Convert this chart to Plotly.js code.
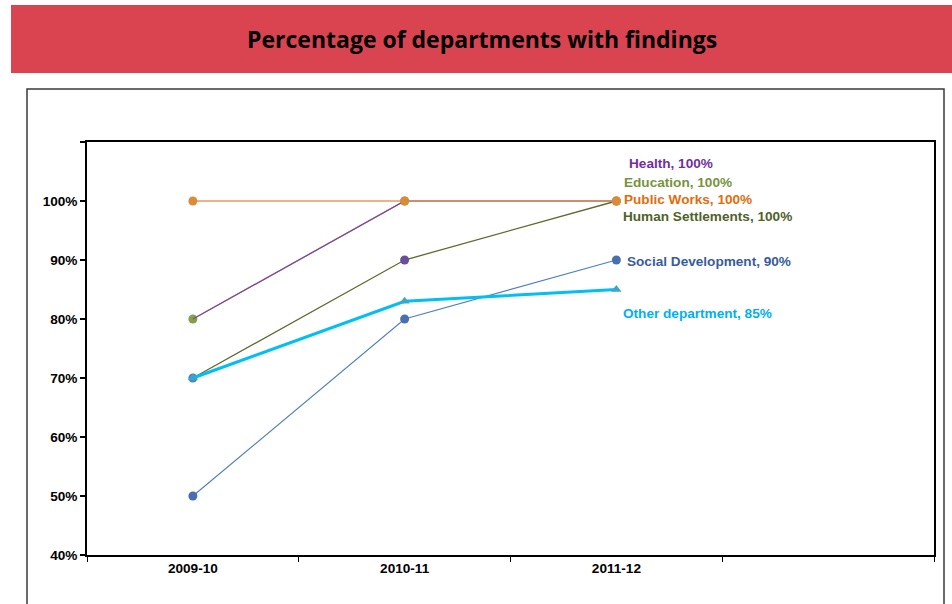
<!DOCTYPE html>
<html>
<head>
<meta charset="utf-8">
<script src="https://cdn.plot.ly/plotly-3.0.1.min.js"></script>
<style>html,body{margin:0;padding:0;background:#fff;}#chart{width:952px;height:604px;}</style>
</head>
<body>
<div id="chart"></div>
<script>
// ---- data ----
const years = ['2009-10', '2010-11', '2011-12'];
const health = [0.80, 1.00, 1.00];
const education = [0.80, 1.00, 1.00];
const humanSettlements = [0.70, 0.90, 1.00];
const socialDevelopment = [0.50, 0.80, 0.90];
const otherDepartment = [0.70, 0.83, 0.85];
const publicWorks = [1.00, 1.00, 1.00];
const labelNames = ['Health', 'Education', 'Public Works', 'Human Settlements', 'Social Development', 'Other department'];
const labelValues = [1.00, 1.00, 1.00, 1.00, 0.90, 0.85];
const yTickVals = [0.4, 0.5, 0.6, 0.7, 0.8, 0.9, 1.0, 1.1];
const yTickText = ['40%', '50%', '60%', '70%', '80%', '90%', '100%', ''];
const chartTitle = 'Percentage of departments with findings';

// ---- layout helpers (pixel -> paper) ----
const L = 87, R = 934, T = 142, B = 555;
const xp = px => (px - L) / (R - L);
const yp = py => (B - py) / (B - T);

const boldFont = (size, color) => ({family: 'Arial, "Liberation Sans", sans-serif', size: size, color: color, weight: 700});

const mk = (y, mode, lineColor, lineWidth, markerColor, symbol, size) => ({
  x: years, y: y, type: 'scatter', mode: mode,
  line: {color: lineColor, width: lineWidth},
  marker: {color: markerColor, symbol: symbol, size: size},
  hoverinfo: 'skip', showlegend: false
});

const data = [
  mk(education, 'lines+markers', '#C9B07A', 1.3, '#84A048', 'circle', 9),
  mk(health, 'lines', '#7A48A0', 1.3, '#7A48A0', 'circle', 9),
  mk(humanSettlements, 'lines+markers', '#5B6C2D', 1.3, ['#4A86B6', '#6A4E9A', '#DA8A3B'], 'circle', 9),
  mk(socialDevelopment, 'lines+markers', '#4F81BD', 1.2, '#4A6FB0', 'circle', 9),
  mk(otherDepartment, 'lines+markers', '#00BFF3', 3, '#3FA4C8', 'triangle-up', 9),
  mk(publicWorks, 'lines+markers', '#E49A5E', 1.5, '#DA8A3B', 'circle', 9)
];

const labelColors = ['#7030A0', '#77933C', '#E46C0A', '#4F6228', '#385D9A', '#00B0F0'];
const labelPos = [[627, 163], [622, 182], [622, 199], [621, 216.5], [624.5, 261], [620.5, 313]];

const annotations = labelNames.map((n, i) => ({
  text: n + ', ' + Math.round(labelValues[i] * 100) + '%',
  xref: 'paper', yref: 'paper', x: xp(labelPos[i][0]), y: yp(labelPos[i][1]),
  xanchor: 'left', yanchor: 'middle', showarrow: false,
  font: boldFont(13.6, labelColors[i])
}));
annotations.push({
  text: chartTitle, xref: 'paper', yref: 'paper', x: xp(482), y: yp(39),
  xanchor: 'center', yanchor: 'middle', showarrow: false,
  font: {family: '"Open Sans", sans-serif', size: 23, color: '#000', weight: 700}
});

const layout = {
  width: 952, height: 604,
  margin: {l: L, r: 952 - R, t: T, b: 604 - B, pad: 0},
  paper_bgcolor: '#fff', plot_bgcolor: '#fff',
  xaxis: {
    type: 'category', categoryorder: 'array', categoryarray: years.concat([' ']),
    range: [-0.5, 3.5], tickson: 'boundaries', ticks: 'outside', ticklen: 5, tickwidth: 1,
    tickcolor: '#000', showline: true, linecolor: '#000', linewidth: 1.8, mirror: true,
    showgrid: false, zeroline: false, tickfont: boldFont(13.6, '#000'), fixedrange: true
  },
  yaxis: {
    range: [0.4, 1.1], tickvals: yTickVals, ticktext: yTickText, ticks: 'outside', ticklen: 5,
    tickwidth: 1.2, tickcolor: '#000', showline: true, linecolor: '#000', linewidth: 1.8, mirror: true,
    showgrid: false, zeroline: false, tickfont: boldFont(13.6, '#000'), fixedrange: true
  },
  shapes: [
    {type: 'rect', xref: 'paper', yref: 'paper', x0: xp(11), x1: xp(960), y0: yp(73), y1: yp(5),
     fillcolor: '#DA4451', line: {width: 0}, layer: 'below'},
    {type: 'rect', xref: 'paper', yref: 'paper', x0: xp(27), x1: xp(944), y0: yp(620), y1: yp(89),
     fillcolor: 'rgba(0,0,0,0)', line: {color: '#3A3A3A', width: 1.5}, layer: 'below'}
  ],
  annotations: annotations
};

Plotly.newPlot('chart', data, layout, {displayModeBar: false, staticPlot: true});
</script>
</body>
</html>
